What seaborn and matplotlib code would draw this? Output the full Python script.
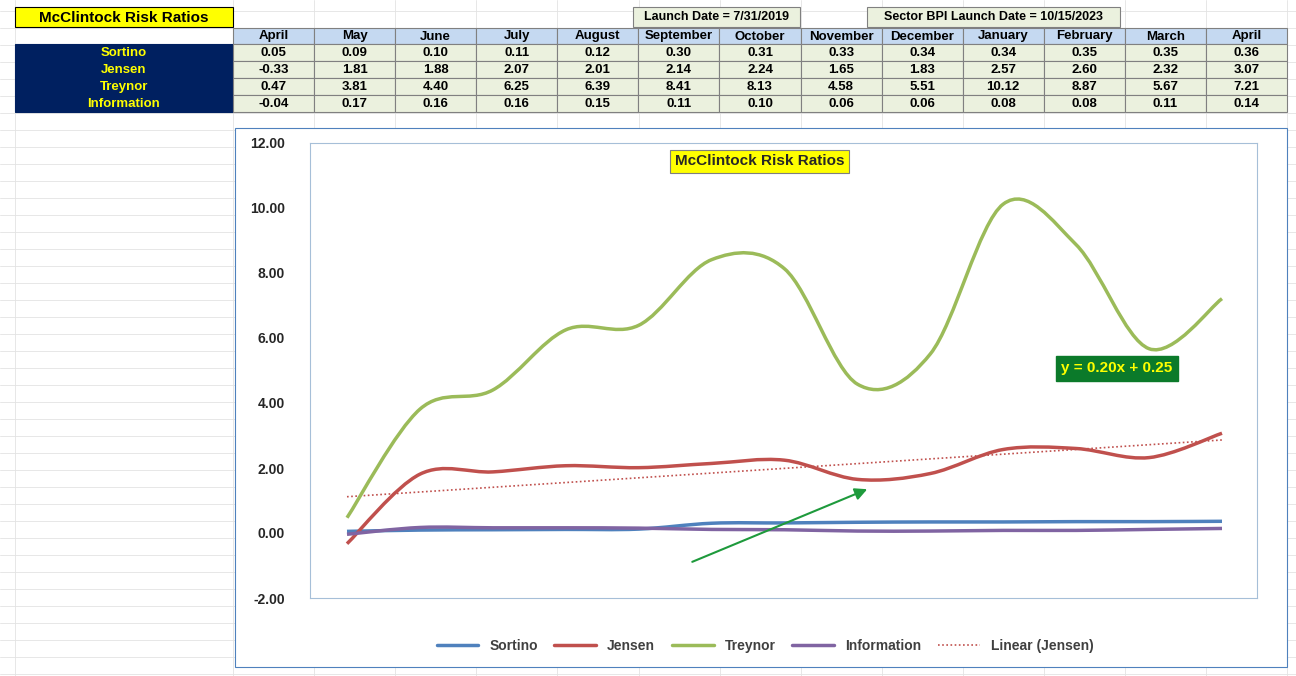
import matplotlib
matplotlib.use("Agg")
import matplotlib.pyplot as plt
import seaborn as sns
import numpy as np
import pandas as pd
from matplotlib.path import Path
from matplotlib.patches import PathPatch, Rectangle

months = ["April","May","June","July","August","September","October","November",
          "December","January","February","March","April"]
sortino = [0.05,0.09,0.10,0.11,0.12,0.30,0.31,0.33,0.34,0.34,0.35,0.35,0.36]
jensen = [-0.33,1.81,1.88,2.07,2.01,2.14,2.24,1.65,1.83,2.57,2.60,2.32,3.07]
treynor = [0.47,3.81,4.40,6.25,6.39,8.41,8.13,4.58,5.51,10.12,8.87,5.67,7.21]
information = [-0.04,0.17,0.16,0.16,0.15,0.11,0.10,0.06,0.06,0.08,0.08,0.11,0.14]
row_names = ["Sortino","Jensen","Treynor","Information"]
yticks = [-2,0,2,4,6,8,10,12]

sns.set_theme(style="white")
plt.rcParams['font.family'] = ['Liberation Sans', 'DejaVu Sans']
W, H = 1296, 676
fig = plt.figure(figsize=(W/100, H/100), dpi=100)
bg = fig.add_axes([0, 0, 1, 1])
bg.set_xlim(0, W); bg.set_ylim(H, 0); bg.axis("off")

# spreadsheet grid
for y in range(10, H, 17):
    bg.plot([0, W], [y+1, y+1], color="#e3e3e3", lw=0.6, zorder=0)
colx = [15, 233] + [233 + 81.1*i for i in range(1, 14)]
for x in colx:
    bg.plot([x, x], [0, H], color="#e3e3e3", lw=0.6, zorder=0)

def cell(x0, y0, x1, y1, fc, text, tc="black", fs=9.5, ec="#808080"):
    bg.add_patch(Rectangle((x0, y0), x1-x0, y1-y0, fc=fc, ec=ec, lw=0.8, zorder=1))
    bg.text((x0+x1)/2, (y0+y1)/2+0.5, text, ha="center", va="center",
            fontsize=fs, color=tc, fontweight="bold", zorder=2)

cell(15, 7, 233, 27, "#ffff00", "McClintock Risk Ratios", fs=11, ec="black")
cell(633, 7, 800, 27, "#ebf1de", "Launch Date = 7/31/2019", fs=9)
cell(867, 7, 1120, 27, "#ebf1de", "Sector BPI Launch Date = 10/15/2023", fs=9)
cw = (1287-233)/13
for i, m in enumerate(months):
    cell(233+i*cw, 28, 233+(i+1)*cw, 44, "#c5d9f1", m)
data = [sortino, jensen, treynor, information]
for r, (name, vals) in enumerate(zip(row_names, data)):
    y0 = 44 + r*17
    cell(15, y0, 233, y0+17, "#002060", name, tc="#ffff00", ec="#002060")
    for i, v in enumerate(vals):
        cell(233+i*cw, y0, 233+(i+1)*cw, y0+17, "#ebf1de", f"{v:.2f}")

# chart frame
bg.add_patch(Rectangle((235, 128), 1052, 539, fc="white", ec="#4f81bd", lw=0.8, zorder=1))

ax = fig.add_axes([310/W, (H-598)/H, 947/W, 455/H], zorder=3)
ax.set_facecolor("white")
x = np.arange(len(months))
sp = (1222-347)/12
ax.set_xlim(-(347-310)/sp, 12 + (1257-1222)/sp)
ax.set_ylim(-2, 12)
ax.set_yticks(yticks)
ax.set_yticklabels([f"{v:.2f}" for v in yticks], fontsize=10, fontweight="bold")
ax.set_xticks([])
ax.tick_params(axis="y", pad=18, length=0)
for s in ax.spines.values():
    s.set_color("#a6bfd8"); s.set_linewidth(0.8)

def smooth(vals, color, label):
    p = np.column_stack([x, vals]).astype(float)
    verts = [p[0]]; codes = [Path.MOVETO]
    n = len(p)
    for i in range(n-1):
        p0 = p[max(i-1, 0)]; p1 = p[i]; p2 = p[i+1]; p3 = p[min(i+2, n-1)]
        c1 = p1 + (p2-p0)/6; c2 = p2 - (p3-p1)/6
        verts += [c1, c2, p2]; codes += [Path.CURVE4]*3
    ax.add_patch(PathPatch(Path(verts, codes), fc="none", ec=color, lw=2.5, zorder=4))
    ax.plot([], [], color=color, lw=2.5, label=label)

smooth(sortino, "#4f81bd", "Sortino")
smooth(jensen, "#c0504d", "Jensen")
smooth(treynor, "#9bbb59", "Treynor")
smooth(information, "#8064a2", "Information")

coef = np.polyfit(x, jensen, 1)
trend = pd.DataFrame({"x": x, "y": np.polyval(coef, x)})
sns.lineplot(data=trend, x="x", y="y", ax=ax, color="#c0504d", lw=1.2,
             linestyle=(0, (1, 1.5)), label="Linear (Jensen)", zorder=3)
ax.set_xlabel(""); ax.set_ylabel("")

ax.annotate("", xy=(7.17, 1.38), xytext=(4.7, -0.92),
            arrowprops=dict(arrowstyle="-|>", color="#1e9a3c", lw=1.5, mutation_scale=18), zorder=5)

ax.text(0.475, 0.975, "McClintock Risk Ratios", transform=ax.transAxes, ha="center", va="top",
        fontsize=11, fontweight="bold",
        bbox=dict(boxstyle="square,pad=0.3", fc="#ffff00", ec="#7f7f7f", lw=0.8), zorder=6)
ax.text(0.852, 0.505, "y = 0.20x + 0.25", transform=ax.transAxes, ha="center", va="center",
        fontsize=11, fontweight="bold", color="#ffff00",
        bbox=dict(boxstyle="square,pad=0.35", fc="#0b7a2a", ec="#0b7a2a"), zorder=6)

leg = ax.legend(loc="center", bbox_to_anchor=(765/947 - 310/947 + 0.0, -0.105),
                ncol=5, frameon=False, fontsize=10, handlelength=3, columnspacing=1.2)
for t in leg.get_texts():
    t.set_fontweight("bold"); t.set_color("#404040")

fig.savefig("out.png", dpi=100)
